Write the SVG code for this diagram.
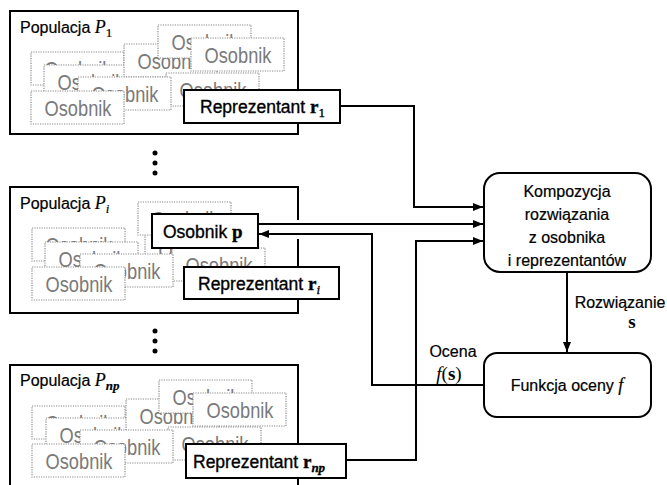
<svg xmlns="http://www.w3.org/2000/svg" width="667" height="485" viewBox="0 0 667 485">
<style>
.bg{fill:#fff}
.pop{fill:#fff;stroke:#000;stroke-width:2}
.orect{fill:#fff;stroke:#8a8a8a;stroke-width:1.2;stroke-dasharray:1.2 1.2}
.otext{font-family:"Liberation Sans",Arial,sans-serif;font-size:19px;fill:#7a7a7a;text-anchor:middle}
.box{fill:#fff;stroke:#000;stroke-width:2}
.lbl{font-family:"Liberation Sans",Arial,sans-serif;font-size:16px;fill:#000;stroke:#000;stroke-width:0.2}
.big{font-family:"Liberation Sans",Arial,sans-serif;font-size:17.5px;fill:#000;stroke:#000;stroke-width:0.35}
.ser{font-family:"Liberation Serif","Times New Roman",serif}
.it{font-style:italic}
.bd{font-weight:bold}
.mid{text-anchor:middle}
.con{fill:none;stroke:#000;stroke-width:2}
.dot{fill:#000}
</style>
<defs>
<marker id="ah" markerUnits="userSpaceOnUse" markerWidth="10" markerHeight="8" viewBox="0 0 10 8" refX="10" refY="4" orient="auto">
<path d="M0,0 L10,4 L0,8 z" fill="#000"/>
</marker>
<g id="o"><rect class="orect" width="93" height="33"/><text class="otext" transform="translate(47,24.5) scale(0.96,1.18)">Osobnik</text></g>
</defs>
<rect class="bg" width="667" height="485"/>

<!-- Population 1 -->
<g id="pop1">
<rect class="pop" x="10" y="11" width="288" height="123"/>
<text class="lbl" x="20" y="33" font-size="15">Populacja <tspan class="ser it" font-size="18">P</tspan><tspan class="ser" font-size="13" dy="4">1</tspan></text>
<g class="ind">
<use href="#o" x="31" y="52"/>
<use href="#o" x="44" y="65"/>
<use href="#o" x="124" y="44"/>
<use href="#o" x="158" y="25"/>
<use href="#o" x="191" y="38"/>
<use href="#o" x="166" y="73"/>
<use href="#o" x="78" y="77"/>
<use href="#o" x="31" y="91"/>
</g>
</g>
<g id="rep1">
<rect class="box" x="184" y="90" width="156" height="33"/>
<text class="big" x="200" y="113">Reprezentant <tspan class="ser bd" font-size="19">r</tspan><tspan class="ser" font-size="13" dy="4">1</tspan></text>
</g>

<g id="dots1">
<circle class="dot" cx="155" cy="153" r="2.5"/>
<circle class="dot" cx="155" cy="163" r="2.5"/>
<circle class="dot" cx="155" cy="173" r="2.5"/>
</g>

<!-- Population i -->
<g id="popi">
<rect x="10" y="187" width="288" height="126" fill="#fff"/>
<path class="pop" fill="none" d="M298,220 V187 H10 V313 H298 V239"/>
<text class="lbl" x="20" y="209" font-size="15">Populacja <tspan class="ser it" font-size="18">P</tspan><tspan class="ser it" font-size="13" dy="4">i</tspan></text>
<g class="ind">
<use href="#o" x="32" y="228"/>
<use href="#o" x="45" y="242"/>
<use href="#o" x="145" y="233"/>
<use href="#o" x="138" y="202"/>
<use href="#o" x="172" y="248"/>
<use href="#o" x="80" y="254"/>
<use href="#o" x="32" y="267"/>
</g>
</g>
<g id="osobnikp">
<rect class="box" x="152" y="214" width="106" height="34"/>
<text class="big" x="163" y="238">Osobnik <tspan class="ser bd" font-size="19">p</tspan></text>
</g>
<g id="repi">
<rect class="box" x="184" y="267" width="155" height="32"/>
<text class="big" x="198" y="290">Reprezentant <tspan class="ser bd" font-size="19">r</tspan><tspan class="ser it" font-size="13" dy="4">i</tspan></text>
</g>

<g id="dots2">
<circle class="dot" cx="155" cy="331" r="2.5"/>
<circle class="dot" cx="155" cy="341" r="2.5"/>
<circle class="dot" cx="155" cy="351" r="2.5"/>
</g>

<!-- Population np -->
<g id="popnp">
<rect class="pop" x="10" y="365" width="288" height="130"/>
<text class="lbl" x="20" y="386" font-size="15">Populacja <tspan class="ser it" font-size="18">P</tspan><tspan class="ser it bd" font-size="13" dy="4">np</tspan></text>
<g class="ind">
<use href="#o" x="32" y="406"/>
<use href="#o" x="46" y="418"/>
<use href="#o" x="126" y="399"/>
<use href="#o" x="159" y="380"/>
<use href="#o" x="193" y="393"/>
<use href="#o" x="168" y="427"/>
<use href="#o" x="80" y="430"/>
<use href="#o" x="32" y="444"/>
</g>
</g>
<g id="repnp">
<rect class="box" x="186" y="444" width="160" height="34"/>
<text class="big" x="193" y="468">Reprezentant <tspan class="ser bd" font-size="19">r</tspan><tspan class="ser it bd" font-size="13" dy="4">np</tspan></text>
</g>

<!-- Right side nodes -->
<g id="kompozycja">
<rect class="box" x="484" y="173" width="167" height="99" rx="16"/>
<text class="lbl mid" x="567" y="197">Kompozycja</text>
<text class="lbl mid" x="567" y="220">rozwiązania</text>
<text class="lbl mid" x="567" y="243">z osobnika</text>
<text class="lbl mid" x="567" y="266">i reprezentantów</text>
</g>
<g id="funkcja">
<rect class="box" x="484" y="353" width="167" height="64" rx="13"/>
<text class="lbl mid" x="567" y="391">Funkcja oceny <tspan class="ser it" font-size="18">f</tspan></text>
</g>

<!-- Connectors -->
<g id="connectors">
<path class="con" d="M340,106 H414 V207 H483" marker-end="url(#ah)"/>
<path class="con" d="M258,224 H483" marker-end="url(#ah)"/>
<path class="con" d="M484,385 H372 V234 H259" marker-end="url(#ah)"/>
<path class="con" d="M346,460 H416 V241 H483" marker-end="url(#ah)"/>
<path class="con" d="M567,272 V352" marker-end="url(#ah)"/>
<text class="lbl mid" x="620" y="308">Rozwiązanie</text>
<text class="ser bd mid" x="632" y="328" font-size="19">s</text>
<text class="lbl mid" x="453" y="357">Ocena</text>
<text class="ser mid" x="449" y="380" font-size="19"><tspan class="it">f</tspan>(<tspan class="bd">s</tspan>)</text>
</g>
</svg>
